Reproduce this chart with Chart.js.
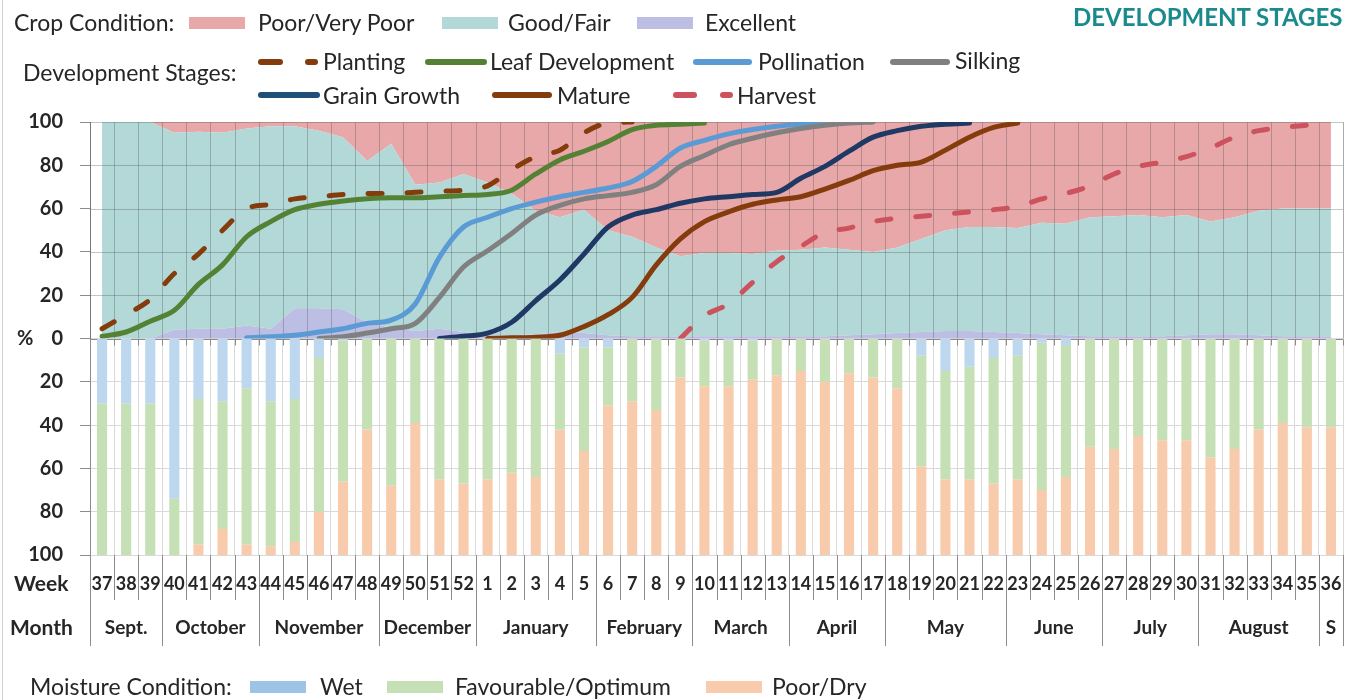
<!DOCTYPE html>
<html>
<head>
<meta charset="utf-8">
<script src="https://cdn.jsdelivr.net/npm/chart.js@4.4.1/dist/chart.umd.min.js"></script>
<style>
  body { margin: 0; background: #fff; }
  #wrap { position: relative; width: 1354px; height: 700px; overflow: hidden; font-family: Lato, 'Open Sans', sans-serif; color: #262626; }
  #wrap canvas { position: absolute; left: 0; top: 0; }
  .t { position: absolute; white-space: nowrap; line-height: 26px; height: 26px; font-size: 23px; }
  .sw { position: absolute; width: 56px; height: 12px; }
  .ln { position: absolute; height: 6px; border-radius: 3px; }
  #edge { position: absolute; left: 2px; top: 0; width: 1px; height: 700px; background: #d0d0d0; }
</style>
</head>
<body>
<div id="wrap"><canvas id="c" width="1354" height="700"></canvas><div id="edge"></div></div>
<script>
// --- Data ---
const weeks = ['37','38','39','40','41','42','43','44','45','46','47','48','49','50','51','52',
  '1','2','3','4','5','6','7','8','9','10','11','12','13','14','15','16','17','18','19','20',
  '21','22','23','24','25','26','27','28','29','30','31','32','33','34','35','36'];
const months = ['Sept.','October','November','December','January','February','March','April','May','June','July','August','S'];
const monthWeeks = [3,4,5,4,5,4,4,4,5,4,4,5,1];

// crop condition (% of crop)
const excellent = [0,0,0,4,4.5,4.5,6,4.5,14,14,13.5,7.5,5,3.5,4.5,3,1.5,1.5,2,3,2.5,1.5,1,1,1,1,
  1,1,1,1,1,1.5,2,2.5,3,3.5,3.5,3,2.5,2,1.5,1,1,1,1,1.5,2,2,1.5,1,1,1];
const goodFair = [100,100,100,91,91,90.5,91,93.5,84,82,79.5,74.5,85,67.5,67.5,73,70.5,65.5,57,53,57,48.5,46,41,37,38.5,
  38.5,38,39.5,40,41,39.5,38,39.5,43,46.5,48,48.5,48.5,51.5,51.5,55,55.5,56,55,55.5,52,54,57.5,59,59,59];
const poorVeryPoor = [0,0,0,5,4.5,5,3,2,2,4,7,18,10,29,28,24,28,33,41,44,40.5,50,53,58,62,60.5,
  60.5,61,59.5,59,58,59,60,58,54,50,48.5,48.5,49,46.5,47,44,43.5,43,44,43,46,44,41,40,40,40];

// development stages (cumulative %), values start at the given week index
function fromWeek(start, values) {
  const out = new Array(weeks.length).fill(null);
  values.forEach((v, i) => { out[start + i] = v; });
  return out;
}
const planting = fromWeek(0, [4.5,11,18,30,39,50,60,62,64.5,65.5,66.5,67,67,67.5,68,68.5,70.5,78,84,87,95,99.5,100]);
const leafDev = fromWeek(0, [1,3,8,13,25,34,47,54,59.5,62,63.5,64.5,65,65,65.5,66,66.5,68.5,76,82.5,86.5,91,96.5,98.5,99,99.5]);
const pollination = fromWeek(6, [0.3,0.8,1.5,3,4.5,7,8.5,16,37.5,51.5,56,60,63,65.5,67.5,69.5,72.5,79.5,88,91.5,94.5,96.5,98,99,99.8]);
const silking = fromWeek(9, [0,0.8,2.5,4.5,7,19,33,40.5,48.5,57,61.5,64.5,66,67.5,71,79.5,84.5,89.5,92.5,95,97,98.5,99.5,100]);
const grainGrowth = fromWeek(14, [0,1,2.5,7.5,17.5,27,39,51.5,57,59.5,62.5,64.5,65.5,66.5,67.5,74,79.5,86.5,93,96,98,99,99.5]);
const mature = fromWeek(16, [0,0.3,0.6,1.5,5.5,11,19,34,46,54,58.5,62,64,65.5,69,73,77.5,80,81.5,87,93,97.5,99.5]);
const harvest = fromWeek(24, [0,10.5,16,26,35.5,42.5,49,51,54,55.5,56.5,57.5,58.5,59.5,61,64.5,67,70.5,76,79.5,81.5,84,88,93,96,97.5,98.5,100]);

// moisture condition (% of area)
const wet = [30,30,30,74,28,29,23,29,28,9,1,0,0,0,0,0,0,0,0,7,4,4,0,0,0,1,
  1,1,0,0,0,0,0,0,8,15,13,9,8,2,3,0,0,0,0,0,0,0,0,0,0,0];
const favourable = [70,70,70,26,67,59,72,67,66,71,65,42,68,39,65,67,65,62,64,35,48,27,29,33,18,21,
  21,18,17,15,20,16,18,23,51,50,52,58,57,68,61,50,51,45,47,47,55,51,42,39,41,41];
const poorDry = [0,0,0,0,5,12,5,4,6,20,34,58,32,61,35,33,35,38,36,58,48,69,71,67,82,78,
  78,81,83,85,80,84,82,77,41,35,35,33,35,30,36,50,49,55,53,53,45,49,58,61,59,59];

// --- Colours ---
const C = {
  poor: '#e8a7a8', good: '#b2d9d8', exc: '#bcbfe3',
  wet: '#bdd7ee', wetKey: '#9dc3e6', fav: '#c5e0b4', dry: '#f8cbad',
  planting: '#843c0c', leaf: '#548235', poll: '#5b9bd5', silk: '#808080',
  grain: '#1f3864', grainKey: '#1f4e79', mature: '#843c0c', harvest: '#cc535e'
};

// --- HTML legends ---
const wrap = document.getElementById('wrap');
function put(cls, css, text) {
  const d = document.createElement('div');
  d.className = cls;
  Object.assign(d.style, css);
  if (text) d.textContent = text;
  wrap.appendChild(d);
  return d;
}
function label(text, left, cy, extra) { return put('t', Object.assign({ left: left + 'px', top: (cy - 13) + 'px' }, extra || {}), text); }
function swatch(color, left, cy) { put('sw', { left: left + 'px', top: (cy - 6) + 'px', background: color }); }
function lineKey(color, left, right, cy) { put('ln', { left: left + 'px', width: (right - left) + 'px', top: (cy - 3) + 'px', background: color }); }

label('DEVELOPMENT STAGES', 1073, 17, { fontWeight: '700', fontSize: '24px', color: '#1a8a8c' });

label('Crop Condition:', 14, 22);
swatch(C.poor, 189, 23); label('Poor/Very Poor', 258, 22);
swatch(C.good, 442, 23); label('Good/Fair', 508, 22);
swatch(C.exc, 637, 23); label('Excellent', 705, 22);

label('Development Stages:', 23, 72);
lineKey(C.planting, 258, 283, 62); lineKey(C.planting, 305, 318, 62); label('Planting', 323, 61);
lineKey(C.leaf, 425, 487, 62); label('Leaf Development', 490, 61);
lineKey(C.poll, 693, 752, 62); label('Pollination', 758, 61);
lineKey(C.silk, 890, 950, 62); label('Silking', 955, 60);
lineKey(C.grainKey, 258, 320, 95); label('Grain Growth', 323, 95);
lineKey(C.mature, 492, 552, 95); label('Mature', 557, 95);
lineKey(C.harvest, 673, 697, 95); lineKey(C.harvest, 720, 733, 95); label('Harvest', 737, 95);

label('Moisture Condition:', 30, 686);
swatch(C.wetKey, 250, 687); label('Wet', 320, 686);
swatch(C.fav, 387, 687); label('Favourable/Optimum', 455, 686);
swatch(C.dry, 706, 687); label('Poor/Dry', 772, 686);

// --- Datasets ---
const area = (label, data, color, fill) => ({
  type: 'line', label, data, yAxisID: 'yTop', stack: 'cond', fill,
  backgroundColor: color, borderColor: 'transparent', borderWidth: 0, pointRadius: 0, tension: 0, order: 20
});
const bar = (label, data, color) => ({
  type: 'bar', label, data, yAxisID: 'yBot', stack: 'moist',
  backgroundColor: color, barPercentage: 0.42, categoryPercentage: 1, order: 10
});
const stage = (label, data, color, order, dashed) => ({
  type: 'line', label, data, yAxisID: 'yTop', fill: false,
  borderColor: color, borderWidth: 5, borderCapStyle: 'round', borderJoinStyle: 'round',
  borderDash: dashed ? [14, 25] : [], pointRadius: 0, cubicInterpolationMode: 'monotone', order
});

const datasets = [
  area('Excellent', excellent, C.exc, 'origin'),
  area('Good/Fair', goodFair, C.good, '-1'),
  area('Poor/Very Poor', poorVeryPoor, C.poor, '-1'),
  bar('Wet', wet, C.wet),
  bar('Favourable/Optimum', favourable, C.fav),
  bar('Poor/Dry', poorDry, C.dry),
  stage('Planting', planting, C.planting, 7, true),
  stage('Leaf Development', leafDev, C.leaf, 6),
  stage('Pollination', pollination, C.poll, 5),
  stage('Silking', silking, C.silk, 4),
  stage('Grain Growth', grainGrowth, C.grain, 3),
  stage('Mature', mature, C.mature, 2),
  stage('Harvest', harvest, C.harvest, 1, true)
];

const tickFont = { family: 'Lato', weight: 'bold', size: 20 };

// grid over the condition areas, zero axis, and the week / month table below
const decor = {
  id: 'decor',
  afterDatasetDraw(chart, args) {
    if (args.index !== 0) return; // last area layer has just been painted
    const { ctx, chartArea: a, scales: { x, yTop } } = chart;
    const w = x.getPixelForValue(1) - x.getPixelForValue(0);
    const x0 = x.getPixelForValue(0) - w / 2;
    ctx.save();
    ctx.lineWidth = 1;
    ctx.strokeStyle = 'rgba(80,80,80,0.33)';
    ctx.beginPath();
    for (let k = 0; k <= weeks.length; k++) {
      const px = Math.round(x0 + k * w) + 0.5;
      ctx.moveTo(px, yTop.top); ctx.lineTo(px, yTop.bottom);
    }
    yTop.ticks.forEach(t => {
      if (t.value === 0) return;
      const py = Math.round(yTop.getPixelForValue(t.value)) + 0.5;
      ctx.moveTo(a.left, py); ctx.lineTo(a.right, py);
    });
    ctx.stroke();
    const y0 = Math.round(yTop.getPixelForValue(0)) + 0.5;
    ctx.strokeStyle = '#8c8c8c';
    ctx.beginPath();
    ctx.moveTo(a.left, y0); ctx.lineTo(a.right, y0);
    for (let k = 0; k <= weeks.length; k++) {
      const px = Math.round(x0 + k * w) + 0.5;
      ctx.moveTo(px, y0); ctx.lineTo(px, y0 + 6);
    }
    ctx.stroke();
    ctx.restore();
  },
  afterDraw(chart) {
    const { ctx, chartArea: a, scales: { x, yTop } } = chart;
    const w = x.getPixelForValue(1) - x.getPixelForValue(0);
    const x0 = x.getPixelForValue(0) - w / 2;
    const weekY = a.bottom + 29, monthY = a.bottom + 73;
    ctx.save();
    ctx.lineWidth = 1;
    ctx.strokeStyle = '#8c8c8c';
    ctx.beginPath();
    for (let k = 0; k <= weeks.length; k++) {
      const px = Math.round(x0 + k * w) + 0.5;
      ctx.moveTo(px, a.bottom); ctx.lineTo(px, a.bottom + 45);
    }
    let k = 0;
    const bounds = [0];
    monthWeeks.forEach(n => { k += n; bounds.push(k); });
    bounds.forEach(b => {
      const px = Math.round(x0 + b * w) + 0.5;
      ctx.moveTo(px, a.bottom); ctx.lineTo(px, a.bottom + 91);
    });
    ctx.stroke();

    ctx.fillStyle = '#262626';
    ctx.textBaseline = 'middle';
    ctx.textAlign = 'center';
    ctx.font = 'bold 18px Lato';
    weeks.forEach((wk, i) => ctx.fillText(wk, x.getPixelForValue(i), weekY));
    ctx.font = 'bold 19px Lato';
    months.forEach((m, i) => ctx.fillText(m, x0 + (bounds[i] + bounds[i + 1]) / 2 * w, monthY));
    ctx.textAlign = 'left';
    ctx.font = 'bold 21px Lato';
    ctx.fillText('Week', 14, weekY);
    ctx.fillText('Month', 10, monthY);
    ctx.font = 'bold 20px Lato';
    ctx.fillText('%', 17, yTop.getPixelForValue(0));
    ctx.restore();
  }
};

new Chart(document.getElementById('c'), {
  type: 'bar',
  data: { labels: weeks, datasets },
  options: {
    responsive: false, animation: false, events: [],
    layout: { padding: { left: 10, right: 11, top: 122, bottom: 145 } },
    plugins: { legend: { display: false }, tooltip: { enabled: false } },
    scales: {
      x: {
        type: 'category', offset: true, stacked: true,
        grid: { offset: true, color: '#d9d9d9', drawTicks: false },
        border: { color: '#d9d9d9' },
        ticks: { display: false },
        afterFit: s => { s.height = 0; }
      },
      // the layout places the later-listed axis of a stack on top
      yBot: {
        position: 'left', stack: 'v', stackWeight: 1, min: 0, max: 100, reverse: true,
        ticks: { stepSize: 20, autoSkip: false, padding: 17, font: tickFont, color: '#262626', callback: v => v === 0 ? '' : v },
        grid: { color: '#d9d9d9', tickLength: 10, tickColor: '#8c8c8c' },
        border: { color: '#8c8c8c' },
        afterFit: s => { s.width = 80; }
      },
      yTop: {
        position: 'left', stack: 'v', stackWeight: 1, min: 0, max: 100,
        ticks: { stepSize: 20, autoSkip: false, padding: 17, font: tickFont, color: '#262626' },
        grid: { drawOnChartArea: false, tickLength: 10, tickColor: '#8c8c8c' },
        border: { color: '#8c8c8c' },
        afterFit: s => { s.width = 80; }
      }
    }
  },
  plugins: [decor]
});
</script>
</body>
</html>
